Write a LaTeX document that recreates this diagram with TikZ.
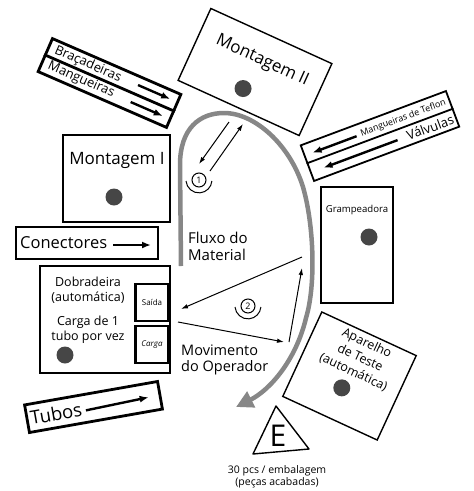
\documentclass[tikz,border=0pt]{standalone}
\usepackage{fontspec}
\setmainfont{Open Sans}
\usetikzlibrary{arrows.meta,calc}
\definecolor{flow}{RGB}{135,135,135}
\definecolor{dotc}{RGB}{70,70,70}
\tikzset{
 thickbox/.style={draw, line width=2.8pt, inner sep=0pt},
 thinbox/.style={draw, line width=1.4pt, inner sep=0pt},
 feed/.style={line width=2.4pt, -{Latex[length=9pt,width=7pt]}},
 move/.style={line width=1pt, -{Latex[length=7pt,width=4.5pt]}},
 dot/.style={circle, fill=dotc, minimum size=17pt, inner sep=0pt},
 lbl/.style={inner sep=0pt, align=center},
}
\begin{document}
\begin{tikzpicture}[x=1pt,y=-1pt]
\useasboundingbox (0,0) rectangle (474,491);

% Bracadeiras / Mangueiras
\begin{scope}[shift={(109.5,83)}, rotate=-23.5, transform shape]
 \node[thickbox, minimum width=140pt, minimum height=36pt] (feedA) at (0,0) {};
 \draw[line width=2.8pt] (feedA.west) -- (feedA.east);
 \node[lbl, anchor=west, font=\fontsize{13}{15}\selectfont] (brac) at (-63,-8.5) {Braçadeiras};
 \node[lbl, anchor=west, font=\fontsize{13}{15}\selectfont] (mang) at (-63,8.5) {Mangueiras};
 \coordinate (a1s) at (27,-9.5); \coordinate (a1e) at (62,-9.5);
 \coordinate (a2s) at (27,9); \coordinate (a2e) at (62,9);
 \draw[feed] (a1s) -- (a1e);
 \draw[feed] (a2s) -- (a2e);
\end{scope}

% Montagem II
\begin{scope}[shift={(255,72)}, rotate=-24.5, transform shape]
 \node[thinbox, minimum width=133pt, minimum height=79pt] (m2) at (0,0) {};
 \node[lbl, font=\fontsize{17}{20}\selectfont] (m2t) at (2,-13) {Montagem II};
 \node[dot] (m2d) at (-4,20) {};
\end{scope}

% Mangueiras de Teflon / Valvulas
\begin{scope}[shift={(380,136)}, rotate=20.5, transform shape]
 \node[draw, line width=1.8pt, inner sep=0pt, minimum width=155pt, minimum height=38pt] (feedC) at (0,0) {};
 \draw[line width=1.8pt] (feedC.west) -- (feedC.east);
 \node[lbl, font=\fontsize{9}{11}\selectfont] (tefl) at (28,-8.5) {Mangueiras de Teflon};
 \node[lbl, font=\fontsize{13}{15}\selectfont] (valv) at (50,9.5) {Válvulas};
 \coordinate (c1s) at (-22,-8); \coordinate (c1e) at (-69,-8);
 \coordinate (c2s) at (15,10); \coordinate (c2e) at (-64,10);
 \draw[feed] (c1s) -- (c1e);
 \draw[feed] (c2s) -- (c2e);
\end{scope}

% Montagem I
\node[thickbox, minimum width=107pt, minimum height=87pt] (m1) at (116.5,178.5) {};
\node[lbl, font=\fontsize{17}{20}\selectfont] (m1t) at (117,160) {Montagem I};
\node[dot] (m1d) at (114,197) {};

% Conectores
\node[thickbox, minimum width=142pt, minimum height=32pt] (con) at (87,243) {};
\node[lbl, anchor=west, font=\fontsize{16.5}{19}\selectfont] (cont) at (20,243) {Conectores};
\coordinate (cs) at (113,245); \coordinate (ce) at (151,245);
\draw[feed] (cs) -- (ce);

% Dobradeira
\node[thickbox, minimum width=130pt, minimum height=107pt] (dob) at (105,319.5) {};
\node[thickbox, minimum width=33pt, minimum height=37pt] (sai) at (152,302.5) {};
\node[thickbox, minimum width=33pt, minimum height=37pt] (car) at (152,344.5) {};
\node[lbl, font=\fontsize{8}{9}\selectfont] at (sai) {Saída};
\node[lbl, font=\fontsize{8}{9}\selectfont\itshape] at (car) {Carga};
\node[lbl, font=\fontsize{12.5}{14.5}\selectfont] (dobt) at (88,290) {Dobradeira\\(automática)};
\node[lbl, font=\fontsize{12.5}{14.5}\selectfont] (cart) at (88,329.5) {Carga de 1\\tubo por vez};
\node[dot] (dobd) at (65,355) {};

% Tubos
\begin{scope}[shift={(93.5,407)}, rotate=10, transform shape]
 \node[thickbox, minimum width=135pt, minimum height=28pt] (tub) at (0,0) {};
 \node[lbl, font=\fontsize{18.5}{21}\selectfont] (tubt) at (-38,0) {Tubos};
 \coordinate (ts) at (-8,2); \coordinate (te) at (56,0);
 \draw[feed] (ts) -- (te);
\end{scope}

% Grampeadora
\node[thinbox, minimum width=72pt, minimum height=116pt] (gra) at (357,245) {};
\node[lbl, font=\fontsize{9.6}{11}\selectfont] (grat) at (357,210) {Grampeadora};
\node[dot] (grad) at (369,237) {};

% Aparelho de Teste
\begin{scope}[shift={(349.5,376)}, rotate=-24.8, transform shape]
 \node[thinbox, minimum width=104pt, minimum height=93pt] (apa) at (0,0) {};
 \node[lbl, font=\fontsize{12.5}{16}\selectfont] (apat) at (2,-21) {Aparelho\\de Teste\\(automática)};
 \node[dot] (apad) at (-2,14) {};
\end{scope}

% Triangle E
\coordinate (tA) at (276,406); \coordinate (tB) at (253,454); \coordinate (tC) at (309,449);
\draw[line width=1.4pt, line join=round] (tA) -- (tB) -- (tC) -- cycle;
\node[lbl, font=\fontsize{30}{32}\selectfont] (E) at (278,436) {E};
\node[lbl, font=\fontsize{10.5}{12}\selectfont] (emb) at (277,477) {30 pcs / embalagem\\(peças acabadas)};

% Material flow
\coordinate (f0) at (181,266);
\coordinate (f1) at (180,165);
\coordinate (f2) at (224,113);
\coordinate (f3) at (303,187);
\coordinate (f4) at (306,318);
\coordinate (f5) at (236,407);
\draw[flow, line width=4.5pt, -{Triangle[length=17pt,width=17pt]}]
 (f0) -- (f1) .. controls (180,128) and (200,113) .. (f2)
 .. controls (255,113) and (290,145) .. (f3)
 .. controls (314,225) and (316,285) .. (f4)
 .. controls (296,360) and (270,390) .. (f5);
\node[lbl, anchor=west, align=left, font=\fontsize{15}{17}\selectfont] (flux) at (188,246) {Fluxo do\\Material};

% Operator movement 1
\coordinate (o1s) at (229,122); \coordinate (o1e) at (199,164);
\coordinate (o2s) at (210,171); \coordinate (o2e) at (243,124);
\draw[move] (o1s) -- (o1e);
\draw[move] (o2s) -- (o2e);
\node[circle, draw, line width=1pt, minimum size=14pt, inner sep=0pt, font=\fontsize{9}{10}\selectfont] (op1) at (199,180) {1};
\draw[line width=1pt] ($(op1)+(-13,1)$) arc[start angle=185, end angle=355, radius=13pt];

% Operator movement 2
\coordinate (p1s) at (302,257); \coordinate (p1e) at (181,309);
\coordinate (p2s) at (178,322); \coordinate (p2e) at (284,342);
\coordinate (p3s) at (289,342); \coordinate (p3e) at (302,268);
\draw[move] (p1s) -- (p1e);
\draw[move] (p2s) -- (p2e);
\draw[move] (p3s) -- (p3e);
\node[circle, draw, line width=1pt, minimum size=14pt, inner sep=0pt, font=\fontsize{9}{10}\selectfont] (op2) at (248,306) {2};
\draw[line width=1pt] ($(op2)+(-13,1)$) arc[start angle=185, end angle=355, radius=13pt];
\node[lbl, anchor=west, align=left, font=\fontsize{14.5}{16.5}\selectfont] (mov) at (181,360) {Movimento\\do Operador};

\end{tikzpicture}
\end{document}
